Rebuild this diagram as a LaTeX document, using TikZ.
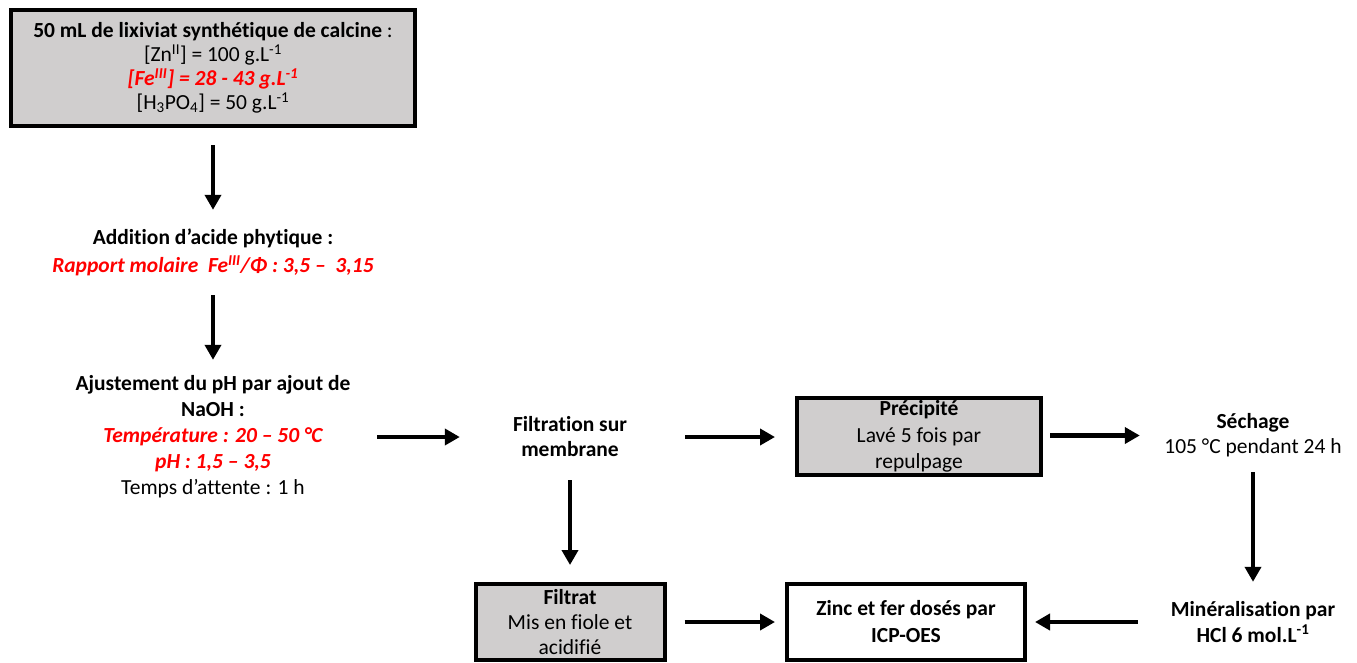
\documentclass[tikz,border=0pt]{standalone}
\usepackage{fontspec}
\setmainfont{Carlito}[Ligatures=NoCommon]
\usetikzlibrary{arrows.meta,calc}
\definecolor{boxgray}{HTML}{D0CECE}
\definecolor{hired}{HTML}{FF0000}
\newcommand{\sups}[1]{\textsuperscript{#1}}
\tikzset{
  txt/.style={inner sep=0pt, align=center, font=\fontsize{21.5}{25.5}\selectfont},
  greybox/.style={txt, draw=black, line width=4pt, fill=boxgray},
  whitebox/.style={txt, draw=black, line width=4pt, fill=white},
  arr/.style={line width=4.5pt, -{Triangle[length=15pt,width=16pt]}},
  redtxt/.style={color=hired}
}
\begin{document}
\begin{tikzpicture}[x=1pt,y=-1pt]
\useasboundingbox (0,0) rectangle (1357,662);
% nodes
\node[greybox, minimum width=404pt, minimum height=116pt,
      font=\fontsize{21.5}{24}\selectfont] (top) at (213,68)
  {\textbf{50 mL de lixiviat synthétique de calcine} :\\
   {[}Zn\sups{II}] = 100 g.L\sups{-1}\\
   {\color{hired}\bfseries\itshape [Fe\sups{III}] = 28 - 43 g.L\sups{-1}}\\
   {[}H\textsubscript{3}PO\textsubscript{4}] = 50 g.L\sups{-1}};
\node[txt, minimum width=330pt, minimum height=85pt,
      font=\fontsize{21.5}{28}\selectfont] (add) at (213,252.5)
  {\textbf{Addition d’acide phytique :}\\
   {\color{hired}\bfseries\itshape Rapport molaire\ \ Fe\sups{III}/Φ : 3,5 –\ \ 3,15}};
\node[txt, minimum width=328pt, minimum height=154pt,
      font=\fontsize{21.5}{26}\selectfont] (ajust) at (213,437)
  {\textbf{Ajustement du pH par ajout de}\\
   \textbf{NaOH :}\\
   {\color{hired}\bfseries\itshape Température : 20 – 50 °C}\\
   {\color{hired}\bfseries\itshape pH : 1,5 – 3,5}\\
   Temps d’attente : 1 h};
\node[txt, minimum width=220pt, minimum height=86pt,
      font=\fontsize{21.5}{25}\selectfont] (filt) at (570,437)
  {\textbf{Filtration sur}\\ \textbf{membrane}};
\node[greybox, minimum width=244pt, minimum height=77pt,
      font=\fontsize{21.5}{26.5}\selectfont] (prec) at (919,436.5)
  {\textbf{Précipité}\\ Lavé 5 fois par\\ repulpage};
\node[txt, minimum width=226pt, minimum height=73pt,
      font=\fontsize{21.5}{25}\selectfont] (sech) at (1253,435.5)
  {\textbf{Séchage}\\ 105 °C pendant 24 h};
\node[txt, minimum width=230pt, minimum height=80pt,
      font=\fontsize{21.5}{26}\selectfont] (miner) at (1253,622)
  {\textbf{Minéralisation par}\\ \textbf{HCl 6 mol.L\sups{-1}}};
\node[whitebox, minimum width=238pt, minimum height=76pt,
      font=\fontsize{21.5}{27}\selectfont] (zinc) at (906,622)
  {\textbf{Zinc et fer dosés par}\\ \textbf{ICP-OES}};
\node[greybox, minimum width=189pt, minimum height=76pt,
      font=\fontsize{21.5}{25}\selectfont] (filtrat) at (570,622)
  {\textbf{Filtrat}\\ Mis en fiole et\\ acidifié};
% connectors
\draw[arr] ($(top.south)+(0,17)$) -- (add.north);
\draw[arr] (add.south) -- (ajust.north);
\draw[arr] (ajust.east) -- (filt.west);
\draw[arr] ($(filt.east)+(5,0)$) -- ($(filt.east -| prec.west)+(-20,0)$);
\draw[arr] ($(prec.east)+(7,-1)$) -- (sech.west);
\draw[arr] (sech.south) -- (miner.north);
\draw[arr] (miner.west) -- ($(zinc.east)+(8,0)$);
\draw[arr] ($(filtrat.east)+(18,0)$) -- ($(zinc.west)+(-10,0)$);
\draw[arr] (filt.south) -- ($(filtrat.north)+(0,-17)$);
\end{tikzpicture}
\end{document}
